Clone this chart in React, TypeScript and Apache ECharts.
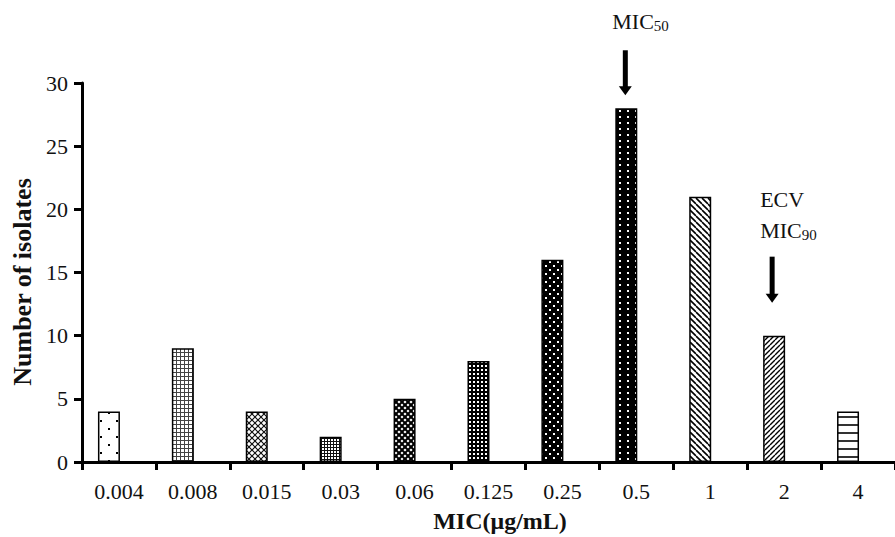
import React, { useEffect, useRef } from 'react';
import * as echarts from 'echarts';

const categories = ['0.004', '0.008', '0.015', '0.03', '0.06', '0.125', '0.25', '0.5', '1', '2', '4'];
const isolates = [4, 9, 4, 2, 5, 8, 16, 28, 21, 10, 4];
const patternKinds = ['sparseDots', 'fineGrid', 'crossLight', 'smallGrid', 'crossDark', 'denseDots', 'blackDots', 'blackColumns', 'backDiag', 'fwdDiag', 'hLines'];
const yMin = 0;
const yMax = 30;
const yStep = 5;
const xTitle = 'MIC(μg/mL)';
const yTitle = 'Number of isolates';
// annotations: category index, main text lines, subscript
const annoMic50 = { index: 7, lines: [] as string[], main: 'MIC', sub: '50' };
const annoMic90 = { index: 9, lines: ['ECV'], main: 'MIC', sub: '90' };

const SERIF = "'Liberation Serif', 'Times New Roman', Times, serif";

function makePattern(kind: string): any {
  const c = document.createElement('canvas');
  let w = 8, h = 8;
  const sizes: Record<string, [number, number]> = {
    sparseDots: [16, 16], fineGrid: [4, 4], crossLight: [6, 6], smallGrid: [3, 3], crossDark: [6, 6],
    denseDots: [4, 4], blackDots: [8, 8], blackColumns: [8, 6], backDiag: [6, 6], fwdDiag: [5, 5], hLines: [8, 8],
  };
  [w, h] = sizes[kind] || [8, 8];
  c.width = w; c.height = h;
  const g = c.getContext('2d')!;
  g.fillStyle = '#fff';
  g.fillRect(0, 0, w, h);
  g.fillStyle = '#000';
  g.strokeStyle = '#000';
  const diag = (dir: number, lw: number) => {
    g.lineWidth = lw;
    g.beginPath();
    for (let k = -1; k <= 1; k++) {
      if (dir > 0) { g.moveTo(k * w, 0); g.lineTo(k * w + w, h); }
      else { g.moveTo(k * w, h); g.lineTo(k * w + w, 0); }
    }
    g.stroke();
  };
  switch (kind) {
    case 'sparseDots':
      g.fillRect(4, 4, 2, 2); g.fillRect(12, 12, 2, 2); break;
    case 'fineGrid':
      g.fillStyle = '#444'; g.fillRect(0, 0, 4, 1); g.fillRect(0, 0, 1, 4); break;
    case 'crossLight':
      g.strokeStyle = '#111'; diag(1, 1.2); diag(-1, 1.2); break;
    case 'smallGrid':
      g.fillStyle = '#111'; g.fillRect(0, 0, 3, 1); g.fillRect(0, 0, 1, 3); break;
    case 'crossDark':
      diag(1, 2); diag(-1, 2); break;
    case 'denseDots':
      g.fillRect(0, 0, w, h); g.fillStyle = '#fff'; g.fillRect(1, 1, 2, 2); break;
    case 'blackDots':
      g.fillRect(0, 0, w, h); g.fillStyle = '#fff'; g.fillRect(1, 1, 2, 2); g.fillRect(5, 5, 2, 2); break;
    case 'blackColumns':
      g.fillRect(0, 0, w, h); g.fillStyle = '#fff'; g.fillRect(3, 2, 2, 2); break;
    case 'backDiag':
      diag(1, 1.6); break;
    case 'fwdDiag':
      diag(-1, 1.4); break;
    case 'hLines':
      g.fillStyle = '#333'; g.fillRect(0, 0, w, 2); break;
  }
  return { image: c, repeat: 'repeat' };
}

export default function App() {
  const ref = useRef<HTMLDivElement>(null);
  useEffect(() => {
    const chart = echarts.init(ref.current!, null, { renderer: 'svg' });
    const option: any = {
      animation: false,
      backgroundColor: '#fff',
      grid: { left: 82, top: 83, width: 820, height: 379, containLabel: false },
      xAxis: {
        type: 'category',
        data: categories,
        boundaryGap: true,
        axisLine: { lineStyle: { color: '#000', width: 3 } },
        axisTick: { show: true, length: 8, lineStyle: { color: '#000', width: 3 } },
        axisLabel: { color: '#111', fontSize: 22, fontFamily: SERIF, margin: 18 },
        splitLine: { show: false },
      },
      yAxis: {
        type: 'value',
        min: yMin,
        max: yMax,
        interval: yStep,
        axisLine: { show: true, lineStyle: { color: '#000', width: 3 } },
        axisTick: { show: true, length: 8, lineStyle: { color: '#000', width: 3 } },
        axisLabel: { color: '#111', fontSize: 22, fontFamily: SERIF, margin: 14 },
        splitLine: { show: false },
      },
      series: [
        {
          type: 'bar',
          barWidth: 22,
          barGap: '-9%',
          itemStyle: { borderColor: '#000', borderWidth: 1.5 },
          data: isolates.map((v, i) => ({ value: v, itemStyle: { color: makePattern(patternKinds[i]) } })),
        },
        { type: 'bar', barWidth: 22, data: isolates.map(() => null), silent: true },
      ],
    };
    chart.setOption(option);

    const arrow = (x: number, top: number, tip: number) => [
      { type: 'rect', shape: { x: x - 2.5, y: top, width: 5, height: tip - top - 7 }, style: { fill: '#000' } },
      { type: 'polygon', shape: { points: [[x - 6.5, tip - 9], [x + 6.5, tip - 9], [x, tip]] }, style: { fill: '#000' } },
    ];
    const subText = (x: number, baseY: number, main: string, sub: string) => [
      { type: 'text', style: { x, y: baseY, text: main, font: `22px ${SERIF}`, fill: '#111', textAlign: 'left', textVerticalAlign: 'bottom' } },
      { type: 'text', style: { x: x + 41.5, y: baseY + 1, text: sub, font: `15px ${SERIF}`, fill: '#111', textAlign: 'left', textVerticalAlign: 'bottom' } },
    ];

    const p50 = chart.convertToPixel({ seriesIndex: 0 }, [annoMic50.index, isolates[annoMic50.index]]) as number[];
    const p90 = chart.convertToPixel({ seriesIndex: 0 }, [annoMic90.index, isolates[annoMic90.index]]) as number[];
    const ax50 = p50[0] - 11;
    const ax90 = p90[0] - 12;
    const graphic: any[] = [
      ...arrow(ax50, p50[1] - 58, p50[1] - 13),
      ...subText(ax50 - 13, p50[1] - 76, annoMic50.main, annoMic50.sub),
      ...arrow(ax90, p90[1] - 79, p90[1] - 33),
      { type: 'text', style: { x: ax90 - 12, y: p90[1] - 125, text: annoMic90.lines[0], font: `22px ${SERIF}`, fill: '#111', textAlign: 'left', textVerticalAlign: 'bottom' } },
      ...subText(ax90 - 12, p90[1] - 94, annoMic90.main, annoMic90.sub),
      { type: 'text', rotation: Math.PI / 2, x: 22, y: 282, style: { x: 0, y: 0, text: yTitle, font: `bold 26px ${SERIF}`, fill: '#111', textAlign: 'center', textVerticalAlign: 'middle' } },
      { type: 'text', style: { x: 500, y: 521, text: xTitle, font: `bold 24px ${SERIF}`, fill: '#111', textAlign: 'center', textVerticalAlign: 'middle' } },
    ];
    chart.setOption({ graphic });
    return () => chart.dispose();
  }, []);
  return <div ref={ref} style={{ position: 'fixed', left: 0, top: 0, width: 895, height: 537, background: '#fff' }} />;
}
